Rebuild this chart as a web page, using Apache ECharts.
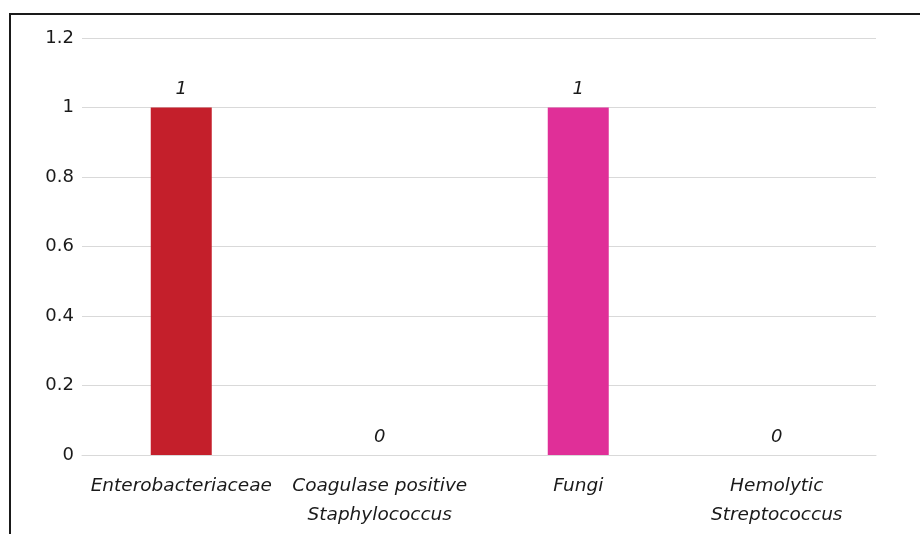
<!DOCTYPE html>
<html><head><meta charset="utf-8">
<script src="https://cdn.jsdelivr.net/npm/echarts@6/dist/echarts.min.js"></script>
<style>
html,body{margin:0;padding:0;background:#fff;}
#frame{position:absolute;left:9px;top:13px;width:911px;height:521px;border-top:2px solid #1a1a1a;border-left:2px solid #1a1a1a;}
#c{position:absolute;left:0;top:0;width:920px;height:534px;}
</style></head>
<body>
<div id="frame"></div>
<div id="c"></div>
<script>
const categories = ["Enterobacteriaceae", "Coagulase positive\nStaphylococcus", "Fungi", "Hemolytic\nStreptococcus"];
const values = [1, 0, 1, 0];
const barColors = ["#c41f2b", "#c41f2b", "#e02f98", "#e02f98"];
const yTicks = { min: 0, max: 1.2, interval: 0.2 };

const chart = echarts.init(document.getElementById('c'));
chart.setOption({
  backgroundColor: 'transparent',
  animation: false,
  grid: { left: 82, right: 44, top: 38, bottom: 79 },
  xAxis: {
    type: 'category',
    data: categories,
    axisTick: { show: false },
    axisLine: { lineStyle: { color: '#d9d9d9', width: 1 } },
    axisLabel: {
      interval: 0, margin: 17, fontStyle: 'italic', fontFamily: 'DejaVu Sans',
      fontSize: 18.5, color: '#1a1a1a', lineHeight: 29
    }
  },
  yAxis: {
    type: 'value', min: yTicks.min, max: yTicks.max, interval: yTicks.interval,
    axisLine: { show: false }, axisTick: { show: false },
    splitLine: { lineStyle: { color: '#d9d9d9', width: 1 } },
    axisLabel: { fontFamily: 'DejaVu Sans', fontSize: 18, color: '#1a1a1a', margin: 8 }
  },
  series: [{
    type: 'bar',
    data: values.map((v, i) => ({ value: v, itemStyle: { color: barColors[i] } })),
    barWidth: 61,
    label: {
      show: true, position: 'top', distance: 9, fontStyle: 'italic',
      fontFamily: 'DejaVu Sans', fontSize: 18, color: '#1a1a1a'
    }
  }]
});
</script>
</body></html>
